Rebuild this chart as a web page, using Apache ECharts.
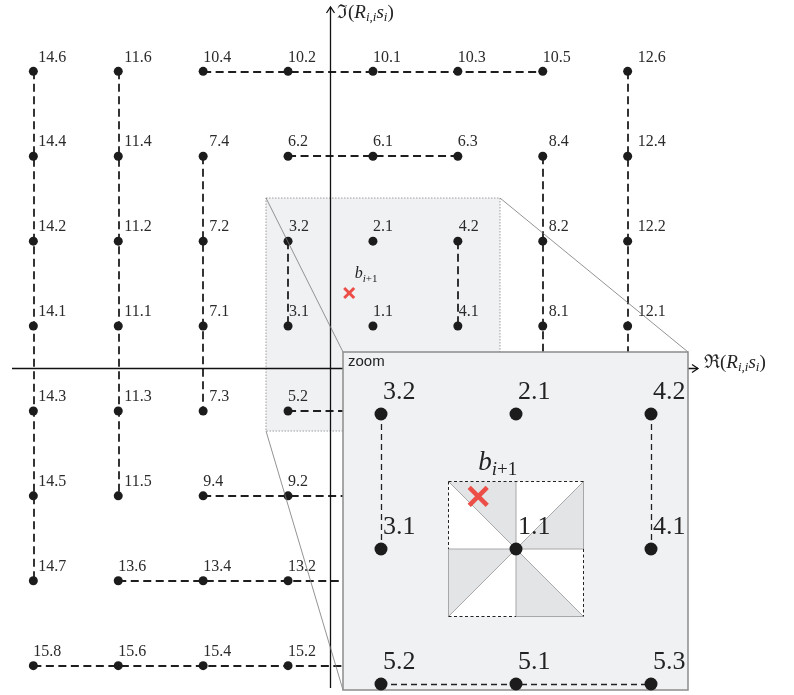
<!DOCTYPE html>
<html><head><meta charset="utf-8">
<script src="https://cdn.jsdelivr.net/npm/echarts@6/dist/echarts.min.js"></script>
<style>html,body{margin:0;padding:0;background:#fff}#c{width:794px;height:695px}</style>
</head><body><div id="c"></div>
<script>
// ---------------- data ----------------
const columnsRe = [-3.5, -2.5, -1.5, -0.5, 0.5, 1.5, 2.5, 3.5];
const rowsIm = [3.5, 2.5, 1.5, 0.5, -0.5, -1.5, -2.5, -3.5];
const labelsRow1 = ['14.6', '11.6', '10.4', '10.2', '10.1', '10.3', '10.5', '12.6'];
const labelsRow2 = ['14.4', '11.4', '7.4', '6.2', '6.1', '6.3', '8.4', '12.4'];
const labelsRow3 = ['14.2', '11.2', '7.2', '3.2', '2.1', '4.2', '8.2', '12.2'];
const labelsRow4 = ['14.1', '11.1', '7.1', '3.1', '1.1', '4.1', '8.1', '12.1'];
const labelsRow5 = ['14.3', '11.3', '7.3', '5.2', '5.1', '5.3', null, null];
const labelsRow6 = ['14.5', '11.5', '9.4', '9.2', null, null, null, null];
const labelsRow7 = ['14.7', '13.6', '13.4', '13.2', null, null, null, null];
const labelsRow8 = ['15.8', '15.6', '15.4', '15.2', null, null, null, null];
// vertical dashed chains: [re, imTop, imBottom]
const verticalChains = [[-3.5, 3.5, -2.5], [-2.5, 3.5, -1.5], [-1.5, 2.5, -0.5], [-0.5, 1.5, 0.5], [1.5, 1.5, 0.5], [2.5, 2.5, -0.5], [3.5, 3.5, -0.5]];
// horizontal dashed chains: [im, reLeft, reRight]
const horizontalChains = [[3.5, -1.5, 2.5], [2.5, -0.5, 1.5], [-0.5, -0.5, 1.5], [-1.5, -1.5, 0.5], [-2.5, -2.5, 0.5], [-3.5, -3.5, 0.5]];
const receivedPoint = [0.22, 0.89];
const zoomRange = [-0.5, 1.5];
const decisionCellCenter = [0.5, 0.5];
const decisionCellHalf = 0.5;

// ---------------- layout ----------------
const U = 84.9, OX = 330.5, OY = 368.5;          // main plane
const V = 135, IX = 448.5, IY = 616.5;           // inset plane (pixel of data 0,0)
const px = x => OX + x * U, py = y => OY - y * U;
const SERIF = "'Liberation Serif','DejaVu Serif',serif";
const INK = '#1c1c1c';

const labelRows = [labelsRow1, labelsRow2, labelsRow3, labelsRow4, labelsRow5, labelsRow6, labelsRow7, labelsRow8];
const points = [];
labelRows.forEach((row, r) => row.forEach((lab, c) => {
  if (lab !== null) points.push({ x: columnsRe[c], y: rowsIm[r], label: lab });
}));
function onVertical(x, y) { return verticalChains.some(c => c[0] === x && y <= c[1] && y >= c[2]); }
function mainDx(x, y) {
  if (!onVertical(x, y)) return 0;
  if (x === 3.5) return 10;
  if (x === -0.5 || x === 1.5) return 1;
  if (x === -3.5) return 5;
  return 6;
}
const inZoom = v => v >= zoomRange[0] && v <= zoomRange[1];
const chainLines = (vc, hc) => vc.map(c => ({ coords: [[c[0], c[1]], [c[0], c[2]]] }))
  .concat(hc.map(c => ({ coords: [[c[1], c[0]], [c[2], c[0]]] })));
const insetV = verticalChains.filter(c => inZoom(c[0]) && inZoom(c[1]) && inZoom(c[2]));
const insetH = horizontalChains.filter(c => inZoom(c[0]) && inZoom(c[1]) && inZoom(c[2]));
const insetPoints = points.filter(p => inZoom(p.x) && inZoom(p.y));

function crossRenderer(s, lw, font, subFont, pad, dx, dy) {
  return function (params, api) {
    const p = api.coord([api.value(0), api.value(1)]);
    const st = { stroke: '#ec4f47', lineWidth: lw };
    return { type: 'group', children: [
      { type: 'line', shape: { x1: p[0] - s, y1: p[1] - s, x2: p[0] + s, y2: p[1] + s }, style: st },
      { type: 'line', shape: { x1: p[0] - s, y1: p[1] + s, x2: p[0] + s, y2: p[1] - s }, style: st },
      { type: 'text', style: {
        x: p[0] + dx, y: p[1] + dy, align: 'left', verticalAlign: 'middle',
        text: '{b|b}{si|i}{s|+1}',
        rich: {
          b: { fontFamily: SERIF, fontStyle: 'italic', fontSize: font, fill: '#222' },
          si: { fontFamily: SERIF, fontStyle: 'italic', fontSize: subFont, fill: '#222', padding: [pad, 0, 0, 0] },
          s: { fontFamily: SERIF, fontSize: subFont, fill: '#222', padding: [pad, 0, 0, 0] }
        }
      } }
    ] };
  };
}

function pinwheel(params, api) {
  const cx = api.value(0), cy = api.value(1), h = api.value(2);
  const P = (a, b) => api.coord([cx + a * h, cy + b * h]);
  const c = P(0, 0), tl = P(-1, 1), tm = P(0, 1), tr = P(1, 1), mr = P(1, 0),
    br = P(1, -1), bm = P(0, -1), bl = P(-1, -1), ml = P(-1, 0);
  const g = { fill: '#e3e4e6' };
  const gl = { stroke: '#a8a8a8', lineWidth: 1 };
  const dl = { stroke: '#222', lineWidth: 1, lineDash: [3, 2.5] };
  const L = (a, b, st) => ({ type: 'line', shape: { x1: a[0], y1: a[1], x2: b[0], y2: b[1] }, style: st });
  return { type: 'group', children: [
    { type: 'polygon', shape: { points: [tl, tr, br, bl] }, style: { fill: '#ffffff' } },
    { type: 'polygon', shape: { points: [tl, tm, c] }, style: g },
    { type: 'polygon', shape: { points: [c, tr, mr] }, style: g },
    { type: 'polygon', shape: { points: [c, br, bm] }, style: g },
    { type: 'polygon', shape: { points: [c, ml, bl] }, style: g },
    L(tm, bm, gl), L(ml, mr, gl), L(tl, br, gl), L(tr, bl, gl),
    L(ml, bl, gl), L(bm, br, gl), L(tr, mr, gl),
    L(tl, tr, dl), L(tl, ml, dl), L(bl, bm, dl), L(mr, br, dl)
  ] };
}

function axisLabel(sym) {
  return {
    text: '{n|' + sym + '(}{it|R}{sub|i,i}{it|s}{sub|i}{n|)}',
    rich: {
      n: { fontFamily: SERIF, fontSize: 19, fill: '#222' },
      it: { fontFamily: SERIF, fontStyle: 'italic', fontSize: 19, fill: '#222' },
      sub: { fontFamily: SERIF, fontStyle: 'italic', fontSize: 13, fill: '#222', padding: [9, 0, 0, 0] }
    }
  };
}

const chart = echarts.init(document.getElementById('c'), null, { renderer: 'canvas' });
const ax = (i, gi, min, max) => ({ gridIndex: gi, type: 'value', min: min, max: max, show: false });
chart.setOption({
  animation: false,
  backgroundColor: '#ffffff',
  grid: [
    { left: px(-3.5), top: py(3.5), width: 7 * U, height: 7 * U },
    { left: IX + zoomRange[0] * V, top: IY - zoomRange[1] * V, width: (zoomRange[1] - zoomRange[0]) * V, height: (zoomRange[1] - zoomRange[0]) * V }
  ],
  xAxis: [ax(0, 0, -3.5, 3.5), ax(1, 1, zoomRange[0], zoomRange[1])],
  yAxis: [ax(0, 0, -3.5, 3.5), ax(1, 1, zoomRange[0], zoomRange[1])],
  graphic: [
    // zoomed region in the main plane
    { type: 'rect', z: 0, shape: { x: 266, y: 198, width: 234, height: 233 },
      style: { fill: '#f0f1f3', stroke: '#9c9c9c', lineWidth: 1, lineDash: [1.5, 1.5] } },
    // axes
    { type: 'line', z: 3, shape: { x1: 12, y1: OY, x2: 698, y2: OY }, style: { stroke: '#111', lineWidth: 1.3 } },
    { type: 'polyline', z: 3, shape: { points: [[692, OY - 4], [698, OY], [692, OY + 4]] }, style: { stroke: '#111', lineWidth: 1.3, fill: null } },
    { type: 'line', z: 3, shape: { x1: OX, y1: 688, x2: OX, y2: 7 }, style: { stroke: '#111', lineWidth: 1.3 } },
    { type: 'polyline', z: 3, shape: { points: [[OX - 4, 13], [OX, 7], [OX + 4, 13]] }, style: { stroke: '#111', lineWidth: 1.3, fill: null } },
    { type: 'text', z: 3, style: Object.assign({ x: 337, y: 13, align: 'left', verticalAlign: 'middle' }, axisLabel('\u2111')) },
    { type: 'text', z: 3, style: Object.assign({ x: 704, y: 363, align: 'left', verticalAlign: 'middle' }, axisLabel('\u211C')) },
    // connectors
    { type: 'line', z: 3, shape: { x1: 266, y1: 198, x2: 343, y2: 352 }, style: { stroke: '#777', lineWidth: 0.8 } },
    { type: 'line', z: 3, shape: { x1: 500, y1: 198, x2: 688, y2: 352 }, style: { stroke: '#777', lineWidth: 0.8 } },
    { type: 'line', z: 3, shape: { x1: 266, y1: 431, x2: 343, y2: 690 }, style: { stroke: '#777', lineWidth: 0.8 } },
    // inset box
    { type: 'rect', z: 10, shape: { x: 343, y: 352, width: 345, height: 338 },
      style: { fill: '#f0f1f3', stroke: '#8c8c8c', lineWidth: 1.5 } },
    { type: 'text', z: 25, style: { x: 348, y: 362, text: 'zoom', align: 'left', verticalAlign: 'middle',
      fontFamily: "'Liberation Sans',sans-serif", fontSize: 15, fill: '#222' } }
  ],
  series: [
    { type: 'lines', coordinateSystem: 'cartesian2d', xAxisIndex: 0, yAxisIndex: 0, z: 2, clip: false, silent: true,
      polyline: false, lineStyle: { color: '#1e1e1e', width: 1.8, type: [8, 4.5], opacity: 1 },
      data: chainLines(verticalChains, horizontalChains) },
    { type: 'scatter', xAxisIndex: 0, yAxisIndex: 0, z: 2, clip: false, silent: true, symbolSize: 9,
      itemStyle: { color: INK, opacity: 1 },
      label: { show: true, position: 'inside', align: 'left', verticalAlign: 'middle', formatter: '{b}',
        fontFamily: SERIF, fontSize: 16, color: '#2b2b2b' },
      data: points.map(p => ({ name: p.label, value: [p.x, p.y], label: { offset: [mainDx(p.x, p.y), -14] } })) },
    { type: 'custom', xAxisIndex: 0, yAxisIndex: 0, z: 3, clip: false, silent: true,
      renderItem: crossRenderer(5, 3, 16, 11, 10, 5.5, -19), data: [receivedPoint] },
    // inset
    { type: 'custom', xAxisIndex: 1, yAxisIndex: 1, z: 15, clip: false, silent: true,
      renderItem: pinwheel, data: [[decisionCellCenter[0], decisionCellCenter[1], decisionCellHalf]] },
    { type: 'lines', coordinateSystem: 'cartesian2d', xAxisIndex: 1, yAxisIndex: 1, z: 20, clip: false, silent: true,
      lineStyle: { color: '#222', width: 1.3, type: [6, 4], opacity: 1 },
      data: chainLines(insetV, insetH) },
    { type: 'scatter', xAxisIndex: 1, yAxisIndex: 1, z: 21, clip: false, silent: true, symbolSize: 13,
      itemStyle: { color: INK, opacity: 1 },
      label: { show: true, position: 'inside', align: 'left', verticalAlign: 'middle', formatter: '{b}',
        offset: [2, -22], fontFamily: SERIF, fontSize: 26, color: '#222' },
      data: insetPoints.map(p => ({ name: p.label, value: [p.x, p.y] })) },
    { type: 'custom', xAxisIndex: 1, yAxisIndex: 1, z: 22, clip: false, silent: true,
      renderItem: crossRenderer(9, 4.5, 27, 19, 14, 0, -33), data: [receivedPoint] }
  ]
});
</script></body></html>
